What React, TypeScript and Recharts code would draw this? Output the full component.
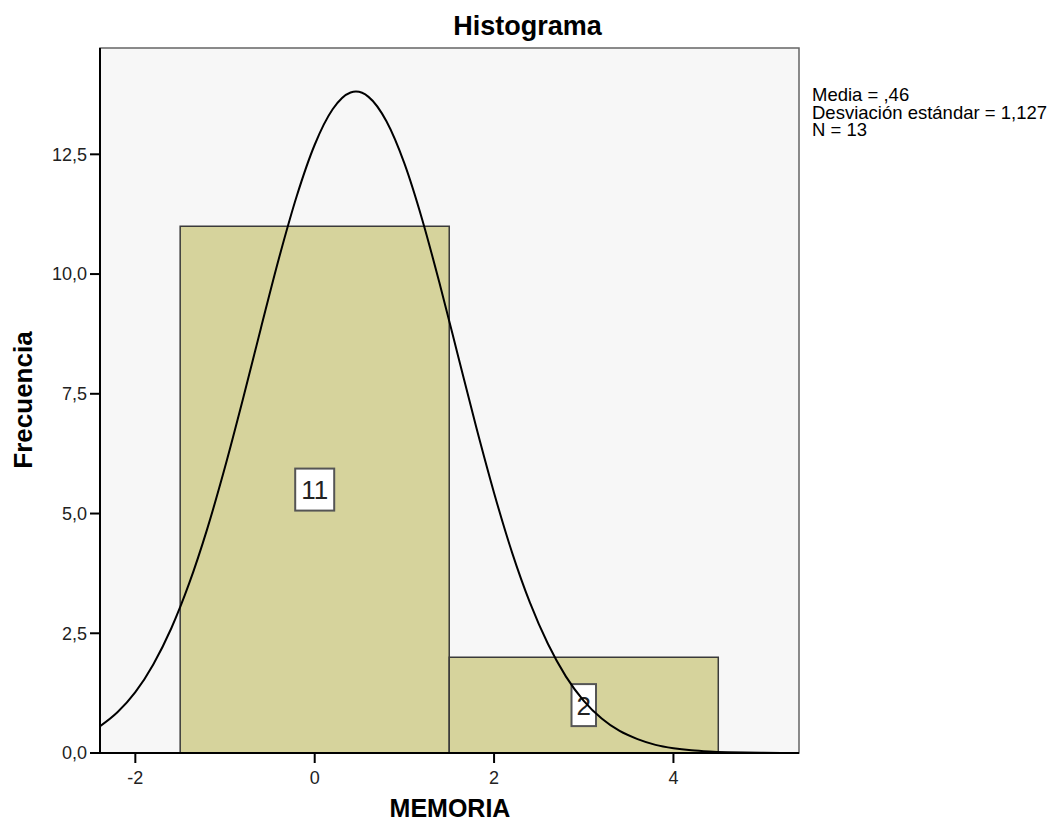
import React from 'react';
import {
  ComposedChart, XAxis, YAxis, Line, Scatter, ReferenceArea, CartesianGrid,
} from 'recharts';

// Histogram bins
const binStart = [-1.5, 1.5];
const binEnd = [1.5, 4.5];
const binCount = [11, 2];
const binCenter = [0, 3];

// Normal curve (x, frequency)
const curveX = [-2.4, -2.2, -2.0, -1.8, -1.6, -1.4, -1.2, -1.0, -0.8, -0.6, -0.4, -0.2, 0.0, 0.2, 0.4, 0.46, 0.6, 0.8, 1.0, 1.2, 1.4, 1.6, 1.8, 2.0, 2.2, 2.4, 2.6, 2.8, 3.0, 3.2, 3.4, 3.6, 3.8, 4.0, 4.2, 4.4, 4.6, 4.8, 5.0, 5.2, 5.4];
const curveY = [0.55, 0.85, 1.27, 1.85, 2.6, 3.54, 4.67, 5.97, 7.39, 8.87, 10.32, 11.63, 12.7, 13.44, 13.79, 13.81, 13.7, 13.19, 12.31, 11.13, 9.75, 8.28, 6.81, 5.43, 4.19, 3.14, 2.28, 1.6, 1.09, 0.72, 0.46, 0.29, 0.17, 0.1, 0.056, 0.031, 0.016, 0.008, 0.004, 0.002, 0.001];

const xTicks = [-2, 0, 2, 4];
const yTicks = [0, 2.5, 5, 7.5, 10, 12.5];
const xDomain = [-2.394, 5.4];
const yDomain = [0, 14.72];

const statsLines = ['Media = ,46', 'Desviación estándar = 1,127', 'N = 13'];

const curveData = curveX.map((x, i) => ({ x, y: curveY[i] }));
const labelData = binCenter.map((x, i) => ({ x, y: binCount[i] / 2, label: String(binCount[i]) }));

const FONT = '"Liberation Sans", Arial, sans-serif';
const fmt = (v: number) => v.toFixed(1).replace('.', ',');

const LabelBox = (props: any) => {
  const { cx, cy, payload } = props;
  if (cx == null || cy == null) return null;
  const txt = payload.label;
  const w = txt.length * 14.5 + 10;
  const h = 42;
  return (
    <g>
      <rect x={cx - w / 2} y={cy - h / 2} width={w} height={h} fill="#ffffff" stroke="#555" strokeWidth={2} />
      <text x={cx} y={cy + 9.5} textAnchor="middle" fontFamily={FONT} fontSize={26} fill="#222">{txt}</text>
    </g>
  );
};

export default function App() {
  return (
    <div style={{ position: 'relative', width: 1039, height: 813 }}>
      <ComposedChart
        width={1039}
        height={813}
        margin={{ top: 40, right: 248, bottom: 38, left: 32 }}
        style={{ fontFamily: FONT }}
      >
        <CartesianGrid horizontal={false} vertical={false} fill="#f7f7f7" />
        <XAxis
          type="number"
          dataKey="x"
          domain={xDomain}
          ticks={xTicks}
          allowDataOverflow
          height={30}
          tickSize={10}
          tickMargin={8}
          stroke="#000"
          strokeWidth={2}
          tick={{ fill: '#222', fontSize: 18, fontFamily: FONT }}
        />
        <YAxis
          type="number"
          domain={yDomain}
          ticks={yTicks}
          allowDataOverflow
          width={60}
          tickSize={10}
          tickMargin={3}
          tickFormatter={fmt}
          stroke="#000"
          strokeWidth={2}
          tick={{ fill: '#222', fontSize: 18, fontFamily: FONT }}
        />
        {binStart.map((s, i) => (
          <ReferenceArea
            key={i}
            x1={s}
            x2={binEnd[i]}
            y1={0}
            y2={binCount[i]}
            fill="#d6d39c"
            fillOpacity={1}
            stroke="#3a3a3a"
            strokeWidth={1.5}
            ifOverflow="visible"
          />
        ))}
        <Scatter data={labelData} dataKey="y" shape={LabelBox} isAnimationActive={false} zIndex={550} />
        <Line
          data={curveData}
          dataKey="y"
          type="monotone"
          dot={false}
          activeDot={false}
          stroke="#000"
          strokeWidth={2}
          isAnimationActive={false}
          zIndex={700}
        />
        <ReferenceArea
          x1={xDomain[0]}
          x2={xDomain[1]}
          y1={yDomain[0]}
          y2={yDomain[1]}
          fill="none"
          stroke="#666"
          strokeWidth={1.5}
          ifOverflow="visible"
        />
      </ComposedChart>
      <svg
        width={1039}
        height={813}
        style={{ position: 'absolute', left: 0, top: 0, pointerEvents: 'none' }}
      >
        <text x={519.5} y={26.5} textAnchor="middle" fontFamily={FONT} fontWeight="bold" fontSize={27} fill="#000">
          Histograma
        </text>
        <text
          transform="translate(24,392) rotate(-90)"
          textAnchor="middle"
          fontFamily={FONT}
          fontWeight="bold"
          fontSize={26}
          fill="#000"
        >
          Frecuencia
        </text>
        <text x={442} y={809} textAnchor="middle" fontFamily={FONT} fontWeight="bold" fontSize={25} fill="#000">
          MEMORIA
        </text>
        {statsLines.map((l, i) => (
          <text key={i} x={804} y={93 + i * 17.5} fontFamily={FONT} fontSize={18.5} fill="#000">
            {l}
          </text>
        ))}
      </svg>
    </div>
  );
}
